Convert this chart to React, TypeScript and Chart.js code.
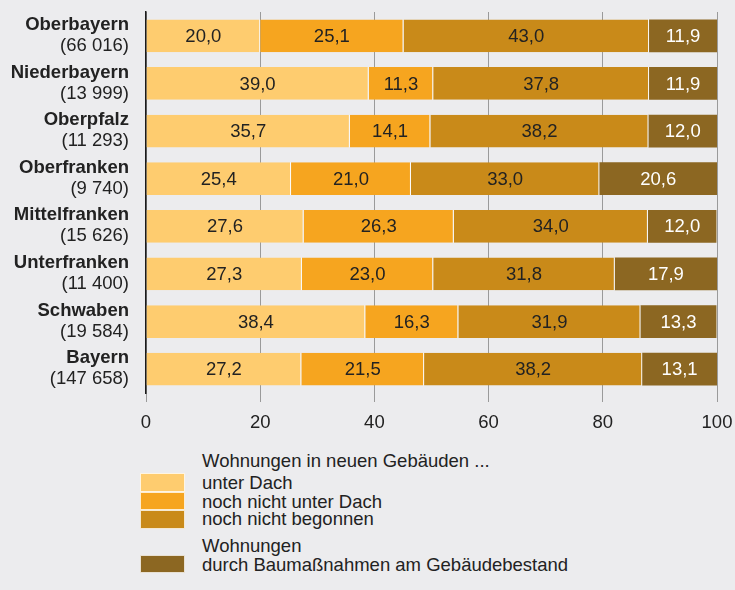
import React, { useEffect, useRef } from "react";
import { Chart, registerables } from "chart.js";

Chart.register(...registerables);

const regions = ["Oberbayern", "Niederbayern", "Oberpfalz", "Oberfranken", "Mittelfranken", "Unterfranken", "Schwaben", "Bayern"];
const counts = ["(66 016)", "(13 999)", "(11 293)", "(9 740)", "(15 626)", "(11 400)", "(19 584)", "(147 658)"];

const unterDach = [20.0, 39.0, 35.7, 25.4, 27.6, 27.3, 38.4, 27.2];
const nochNichtUnterDach = [25.1, 11.3, 14.1, 21.0, 26.3, 23.0, 16.3, 21.5];
const nochNichtBegonnen = [43.0, 37.8, 38.2, 33.0, 34.0, 31.8, 31.9, 38.2];
const gebaeudebestand = [11.9, 11.9, 12.0, 20.6, 12.0, 17.9, 13.3, 13.1];

const seriesNames = ["unter Dach", "noch nicht unter Dach", "noch nicht begonnen", "durch Baumaßnahmen am Gebäudebestand"];
const seriesColors = ["#fecc6f", "#f6a51f", "#c98a19", "#8c6722"];
const labelColors = ["#222222", "#222222", "#222222", "#ffffff"];

const xTicks = [0, 20, 40, 60, 80, 100];

const FONT = "'Liberation Sans', Arial, Helvetica, sans-serif";
const FS = 18.5;
const BG = "#ececee";

const fmt = (v: number) => v.toFixed(1).replace(".", ",");

export default function App() {
  const ref = useRef<HTMLCanvasElement | null>(null);

  useEffect(() => {
    if (!ref.current) return;
    const allData = [unterDach, nochNichtUnterDach, nochNichtBegonnen, gebaeudebestand];

    const labelsPlugin = {
      id: "customLabels",
      afterDatasetsDraw(chart: any) {
        const ctx = chart.ctx;
        ctx.save();
        ctx.textBaseline = "middle";
        ctx.textAlign = "center";
        ctx.font = `${FS}px ${FONT}`;
        chart.data.datasets.forEach((ds: any, di: number) => {
          const meta = chart.getDatasetMeta(di);
          ctx.fillStyle = labelColors[di];
          meta.data.forEach((el: any, i: number) => {
            const cx = (el.x + el.base) / 2;
            ctx.fillText(fmt(ds.data[i]), cx, el.y + 1);
          });
        });
        const yScale = chart.scales.y;
        ctx.textAlign = "right";
        ctx.fillStyle = "#222222";
        regions.forEach((r, i) => {
          const y = yScale.getPixelForValue(i);
          ctx.font = `bold ${FS}px ${FONT}`;
          ctx.fillText(r, 129, y - 11);
          ctx.font = `${FS}px ${FONT}`;
          ctx.fillText(counts[i], 129, y + 10);
        });
        ctx.restore();
      },
    };

    const chart = new Chart(ref.current, {
      type: "bar",
      data: {
        labels: regions,
        datasets: allData.map((d, i) => ({
          label: seriesNames[i],
          data: d,
          backgroundColor: seriesColors[i],
          borderColor: "rgba(255,255,255,0.85)",
          borderWidth: { top: 0, bottom: 0, left: 0, right: i < 3 ? 1 : 0 },
          borderSkipped: false,
          barPercentage: 0.69,
          categoryPercentage: 1,
        })),
      },
      options: {
        indexAxis: "y",
        animation: false,
        responsive: false,
        maintainAspectRatio: false,
        layout: { padding: { top: 12, right: 18, left: 0, bottom: 0 } },
        plugins: { legend: { display: false }, tooltip: { enabled: false } },
        scales: {
          x: {
            stacked: true,
            min: 0,
            max: 100,
            afterBuildTicks: (s: any) => {
              s.ticks = xTicks.map((v) => ({ value: v }));
            },
            afterFit: (s: any) => {
              s.height = 47;
              s.paddingLeft = 0;
              s.paddingRight = 0;
            },
            grid: { color: "#9a9a9a", lineWidth: 1, tickLength: 9, drawOnChartArea: true },
            border: { display: false },
            ticks: { color: "#222222", font: { size: FS, family: FONT }, padding: 10, maxRotation: 0 },
          },
          y: {
            stacked: true,
            afterFit: (s: any) => {
              s.width = 146;
            },
            grid: { display: false },
            border: { display: true, color: "#1a1a1a", width: 1.5 },
            ticks: { display: false },
          },
        },
      },
      plugins: [labelsPlugin],
    } as any);
    return () => chart.destroy();
  }, []);

  const textStyle: React.CSSProperties = {
    position: "absolute",
    left: 202,
    fontFamily: FONT,
    fontSize: FS,
    color: "#222222",
    lineHeight: "18px",
    whiteSpace: "nowrap",
  };
  const sw = (top: number, h: number, color: string): React.CSSProperties => ({
    position: "absolute",
    left: 140,
    top,
    width: 45,
    height: h,
    background: color,
    boxSizing: "border-box",
    border: "1px solid rgba(255,255,255,0.8)",
  });

  return (
    <div style={{ position: "absolute", left: 0, top: 0, width: 735, height: 590, background: BG, overflow: "hidden" }}>
      <canvas ref={ref} width={735} height={440} style={{ position: "absolute", left: 0, top: 0, width: 735, height: 440 }} />
      <div style={{ ...textStyle, top: 452 }}>Wohnungen in neuen Gebäuden ...</div>
      <div style={sw(473, 19, seriesColors[0])} />
      <div style={sw(492, 18, seriesColors[1])} />
      <div style={sw(510, 19, seriesColors[2])} />
      <div style={sw(555, 18, seriesColors[3])} />
      <div style={{ ...textStyle, top: 474 }}>{seriesNames[0]}</div>
      <div style={{ ...textStyle, top: 493 }}>{seriesNames[1]}</div>
      <div style={{ ...textStyle, top: 510 }}>{seriesNames[2]}</div>
      <div style={{ ...textStyle, top: 537 }}>Wohnungen</div>
      <div style={{ ...textStyle, top: 556 }}>{seriesNames[3]}</div>
    </div>
  );
}
